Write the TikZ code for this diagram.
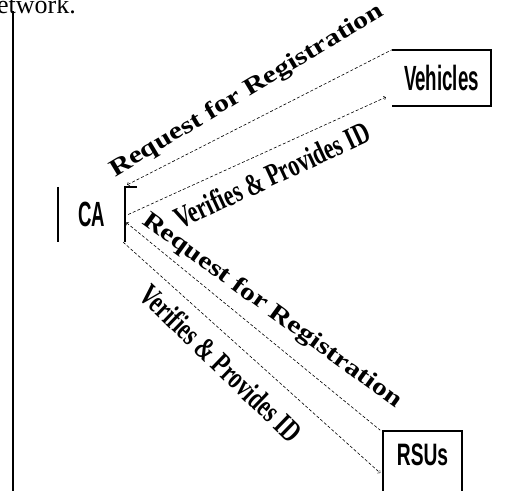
\documentclass[tikz,border=0pt]{standalone}
\usepackage{fontspec}
\setmainfont{Liberation Serif}
\setsansfont{Liberation Sans}
\newcommand{\narrowtxt}[2]{\scalebox{#1}[1]{#2}}

\begin{document}
\begin{tikzpicture}[x=1pt, y=-1pt, every node/.style={inner sep=0pt}, entity/.style={font=\sffamily\bfseries\fontsize{35}{35}\selectfont}, msg/.style={dashed, dash pattern=on 3pt off 2pt, line width=0.6pt, >=to}, lbl/.style={font=\bfseries\fontsize{31}{31}\selectfont}, reqlbl/.style={font=\bfseries\fontsize{24}{24}\selectfont}, bar/.style={line width=1.6pt}]
  \useasboundingbox (0,0) rectangle (526,490);
  % page remains
  \node[anchor=base west, font=\fontsize{26}{26}\selectfont] (note) at (-3,13) {etwork.};
  \draw[bar] (13,11) -- (13,492);
  % entities
  \node[entity, minimum width=67pt, minimum height=55pt] (ca) at (91.5,214.5) {\narrowtxt{0.53}{CA}};
  \draw[bar] (ca.north west) -- (ca.south west);
  \draw[bar] ([xshift=12pt]ca.north east) -- (ca.north east) -- (ca.south east);
  \node[entity, minimum width=99pt, minimum height=56pt] (veh) at (441.5,78) {\narrowtxt{0.535}{Vehicles}};
  \draw[bar] (veh.north west) -- (veh.north east) -- (veh.south east) -- (veh.south west);
  \node[entity, font=\sffamily\bfseries\fontsize{31}{31}\selectfont, draw, line width=1.6pt, minimum width=79pt, minimum height=62pt, text depth=14pt] (rsu) at (422.5,462) {\narrowtxt{0.62}{RSUs}};
  % messages
  \draw[msg, <-] ([xshift=2pt,yshift=2pt]ca.north east) -- (veh.north west);
  \draw[msg, ->] ([xshift=3pt]ca.east) -- ([xshift=-6pt,yshift=9pt]veh.south west);
  \draw[msg, <-] ([xshift=1pt,yshift=-8pt]ca.east) -- ([xshift=-2pt]rsu.north west);
  \draw[msg, ->] ([xshift=-2pt]ca.south east) -- ([xshift=-2pt,yshift=-11pt]rsu.west);
  % labels
  \node[reqlbl, rotate=31] (req1) at (247,91) {\narrowtxt{1.25}{Request for Registration}};
  \node[lbl, rotate=25] (ver1) at (272,175) {\narrowtxt{0.71}{Verifies \& Provides ID}};
  \node[reqlbl, rotate=-36] (req2) at (272,311) {\narrowtxt{1.25}{Request for Registration}};
  \node[lbl, rotate=-44] (ver2) at (221,363) {\narrowtxt{0.71}{Verifies \& Provides ID}};
\end{tikzpicture}
\end{document}
